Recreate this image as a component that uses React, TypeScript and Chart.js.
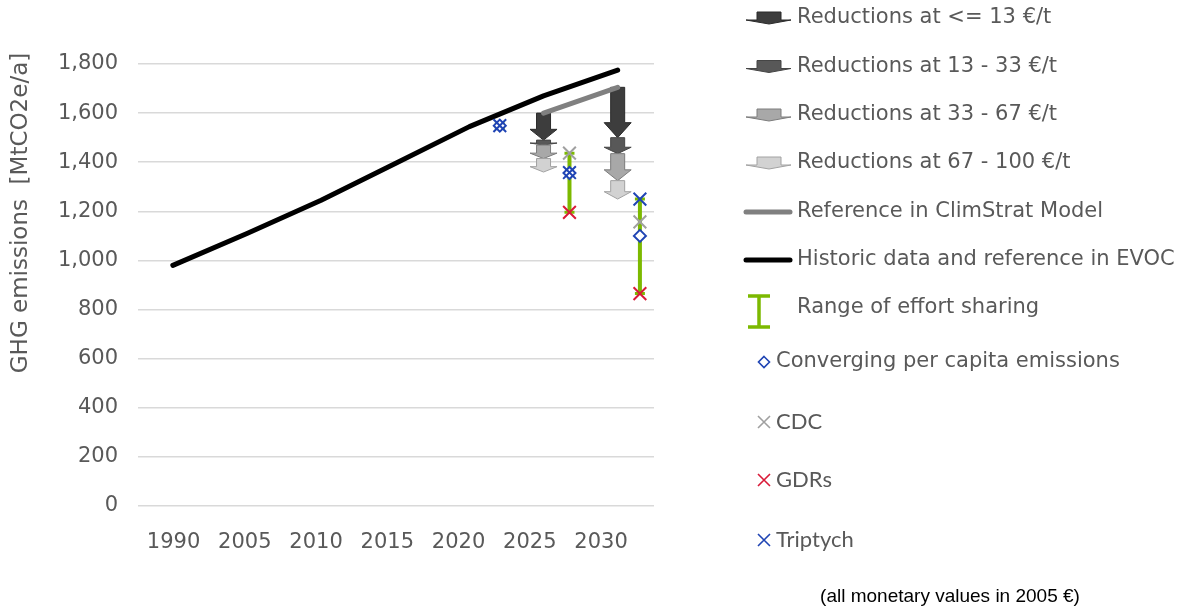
import React, { useEffect, useRef } from 'react';
import { Chart, registerables } from 'chart.js';
Chart.register(...registerables);

// ---------- data ----------
const categories = ['1990', '2005', '2010', '2015', '2020', '2025', '2030'];
const historicEvoc = [980, 1110, 1245, 1395, 1545, 1670, 1775];
const climstratReference = [null, null, null, null, null, 1600, 1705];

const reductionYears = ['2025', '2030'];
const reductionsLe13 = [[1600, 1490], [1705, 1500]];
const reductions13to33 = [[1490, 1470], [1500, 1435]];
const reductions33to67 = [[1470, 1415], [1435, 1325]];
const reductions67to100 = [[1415, 1360], [1325, 1250]];

// effort-sharing results, placed along the category axis (index units)
const effortSharingAt = [4.41, 5.35, 6.3];
const rangeHigh = [1556, 1437, 1250];
const rangeLow = [1541, 1196, 865];
const converging = [1549, 1356, 1100];
const cdc = [null, 1437, 1157];
const gdrs = [null, 1196, 865];
const triptych = [1549, 1358, 1250];

const yTicks = [0, 200, 400, 600, 800, 1000, 1200, 1400, 1600, 1800];

const legendLabels = [
  'Reductions at <= 13 €/t',
  'Reductions at 13 - 33 €/t',
  'Reductions at 33 - 67 €/t',
  'Reductions at 67 - 100 €/t',
  'Reference in ClimStrat Model',
  'Historic data and reference in EVOC',
  'Range of effort sharing',
  'Converging per capita emissions',
  'CDC',
  'GDRs',
  'Triptych',
];
const yTitle = 'GHG emissions  [MtCO2e/a]';
const footnote = '(all monetary values in 2005 €)';

// ---------- styles ----------
const TEXT = '#595959';
const FONT = '"DejaVu Sans", Verdana, sans-serif';
const GREEN = '#7cb900';
const BLUE = '#1f44b4';
const RED = '#d91a38';
const GREYX = '#a0a0a0';
const tierFill = ['#3d3d3d', '#585858', '#a8a8a8', '#d2d2d2'];
const tierEdge = ['#2b2b2b', '#454545', '#7c7c7c', '#a2a2a2'];

function drawArrow(ctx: CanvasRenderingContext2D, cx: number, yTop: number, yTip: number, shaftW: number, headW: number, tier: number) {
  const len = yTip - yTop;
  const hl = Math.min(15, len * 0.4);
  ctx.beginPath();
  ctx.moveTo(cx - shaftW / 2, yTop);
  ctx.lineTo(cx + shaftW / 2, yTop);
  ctx.lineTo(cx + shaftW / 2, yTip - hl);
  ctx.lineTo(cx + headW / 2, yTip - hl);
  ctx.lineTo(cx, yTip);
  ctx.lineTo(cx - headW / 2, yTip - hl);
  ctx.lineTo(cx - shaftW / 2, yTip - hl);
  ctx.closePath();
  ctx.fillStyle = tierFill[tier];
  ctx.fill();
  ctx.strokeStyle = tierEdge[tier];
  ctx.lineWidth = 1;
  ctx.stroke();
}

function drawX(ctx: CanvasRenderingContext2D, x: number, y: number, h: number, color: string, lw = 2) {
  ctx.beginPath();
  ctx.moveTo(x - h, y - h);
  ctx.lineTo(x + h, y + h);
  ctx.moveTo(x + h, y - h);
  ctx.lineTo(x - h, y + h);
  ctx.strokeStyle = color;
  ctx.lineWidth = lw;
  ctx.stroke();
}

const backgroundMarks = {
  id: 'backgroundMarks',
  beforeDatasetsDraw(chart: any) {
    const { ctx, scales } = chart;
    const xs = scales.x;
    const ys = scales.y;
    ctx.save();
    // reduction arrows
    const tiers = [reductionsLe13, reductions13to33, reductions33to67, reductions67to100];
    reductionYears.forEach((yr, i) => {
      const cx = xs.getPixelForValue(categories.indexOf(yr));
      tiers.forEach((tier, t) => {
        const [a, b] = tier[i];
        drawArrow(ctx, cx, ys.getPixelForValue(a), ys.getPixelForValue(b), 14, 27, t);
      });
    });
    // effort sharing ranges
    effortSharingAt.forEach((pos, i) => {
      const x = xs.getPixelForValue(pos);
      const top = ys.getPixelForValue(rangeHigh[i]);
      const bot = ys.getPixelForValue(rangeLow[i]);
      ctx.strokeStyle = GREEN;
      ctx.lineWidth = 4;
      ctx.beginPath();
      ctx.moveTo(x, top);
      ctx.lineTo(x, bot);
      ctx.stroke();
      ctx.lineWidth = 3;
      ctx.beginPath();
      ctx.moveTo(x - 5, top);
      ctx.lineTo(x + 5, top);
      ctx.moveTo(x - 5, bot);
      ctx.lineTo(x + 5, bot);
      ctx.stroke();
    });
    ctx.restore();
  },
};

const decorations = {
  id: 'decorations',
  afterDraw(chart: any) {
    const { ctx } = chart;
    ctx.save();
    // y axis title
    ctx.save();
    ctx.translate(21, 213);
    ctx.rotate(-Math.PI / 2);
    ctx.font = `23px ${FONT}`;
    ctx.fillStyle = TEXT;
    ctx.textAlign = 'center';
    ctx.textBaseline = 'middle';
    ctx.fillText(yTitle, 0, 0);
    ctx.restore();

    // legend
    const rows = [18, 66.5, 115, 163, 212, 260, 308, 362, 422, 480, 540];
    legendLabels.forEach((label, i) => {
      const y = rows[i];
      if (i < 4) {
        // flattened arrow icon
        ctx.beginPath();
        ctx.moveTo(757, y - 6);
        ctx.lineTo(781, y - 6);
        ctx.lineTo(781, y + 2);
        ctx.lineTo(791, y + 2);
        ctx.lineTo(769, y + 6);
        ctx.lineTo(746, y + 2);
        ctx.lineTo(757, y + 2);
        ctx.closePath();
        ctx.fillStyle = tierFill[i];
        ctx.fill();
        ctx.strokeStyle = tierEdge[i];
        ctx.lineWidth = 1;
        ctx.stroke();
      } else if (i === 4 || i === 5) {
        ctx.beginPath();
        ctx.moveTo(746, y);
        ctx.lineTo(790, y);
        ctx.strokeStyle = i === 4 ? '#808080' : '#000000';
        ctx.lineWidth = 5;
        ctx.lineCap = 'round';
        ctx.stroke();
        ctx.lineCap = 'butt';
      } else if (i === 6) {
        ctx.strokeStyle = GREEN;
        ctx.lineWidth = 3.5;
        ctx.beginPath();
        ctx.moveTo(759, y - 12);
        ctx.lineTo(759, y + 19);
        ctx.moveTo(748, y - 12);
        ctx.lineTo(770, y - 12);
        ctx.moveTo(748, y + 19);
        ctx.lineTo(770, y + 19);
        ctx.stroke();
      } else if (i === 7) {
        ctx.beginPath();
        ctx.moveTo(764, y - 5.5);
        ctx.lineTo(769.5, y);
        ctx.lineTo(764, y + 5.5);
        ctx.lineTo(758.5, y);
        ctx.closePath();
        ctx.fillStyle = '#fff';
        ctx.fill();
        ctx.strokeStyle = BLUE;
        ctx.lineWidth = 1.6;
        ctx.stroke();
      } else {
        const col = i === 8 ? GREYX : i === 9 ? RED : BLUE;
        drawX(ctx, 764, y, 6, col, 1.6);
      }
      ctx.fillStyle = TEXT;
      ctx.textBaseline = 'middle';
      ctx.textAlign = 'left';
      ctx.font = i >= 8 ? '22px Lato, sans-serif' : `21px ${FONT}`;
      ctx.fillText(label, i < 7 ? 797 : 776, y);
    });

    // footnote
    ctx.font = '19px "Liberation Sans", Arial, sans-serif';
    ctx.fillStyle = '#000';
    ctx.textAlign = 'center';
    ctx.textBaseline = 'middle';
    ctx.fillText(footnote, 950, 597);
    ctx.restore();
  },
};

export default function App() {
  const ref = useRef<HTMLCanvasElement>(null);
  useEffect(() => {
    if (!ref.current) return;
    const pts = (ys: (number | null)[]) =>
      effortSharingAt.map((x, i) => ({ x, y: ys[i] })).filter((p) => p.y !== null);
    const chart = new Chart(ref.current, {
      type: 'line',
      data: {
        datasets: [
          {
            label: 'Historic data and reference in EVOC',
            data: historicEvoc.map((y, i) => ({ x: i, y })),
            borderColor: '#000000',
            borderWidth: 5,
            pointRadius: 0,
            borderCapStyle: 'round',
            borderJoinStyle: 'round',
            order: 5,
          },
          {
            label: 'Reference in ClimStrat Model',
            data: climstratReference.map((y, i) => ({ x: i, y })).filter((p) => p.y !== null),
            borderColor: '#808080',
            borderWidth: 5,
            pointRadius: 0,
            borderCapStyle: 'round',
            order: 4,
          },
          {
            type: 'scatter',
            label: 'Converging per capita emissions',
            data: pts(converging),
            pointStyle: 'rectRot',
            pointRadius: 6,
            pointBorderWidth: 2,
            pointBackgroundColor: '#ffffff',
            pointBorderColor: BLUE,
            order: 3,
          },
          {
            type: 'scatter',
            label: 'CDC',
            data: pts(cdc),
            pointStyle: 'crossRot',
            pointRadius: 9,
            pointBorderWidth: 2,
            pointBorderColor: GREYX,
            order: 2,
          },
          {
            type: 'scatter',
            label: 'GDRs',
            data: pts(gdrs),
            pointStyle: 'crossRot',
            pointRadius: 9,
            pointBorderWidth: 2,
            pointBorderColor: RED,
            order: 1,
          },
          {
            type: 'scatter',
            label: 'Triptych',
            data: pts(triptych),
            pointStyle: 'crossRot',
            pointRadius: 9,
            pointBorderWidth: 2,
            pointBorderColor: BLUE,
            order: 0,
          },
        ] as any,
      },
      options: {
        responsive: false,
        animation: false,
        layout: { padding: { left: 0, top: 64, right: 534, bottom: 0 } },
        plugins: { legend: { display: false }, tooltip: { enabled: false } },
        scales: {
          x: {
            type: 'linear',
            min: -0.47,
            max: 6.49,
            grid: { display: false },
            border: { display: false },
            afterBuildTicks: (scale: any) => {
              scale.ticks = categories.map((_, i) => ({ value: i * 0.961 + 0.01 }));
            },
            afterFit: (scale: any) => {
              scale.height = 106;
            },
            ticks: {
              autoSkip: false,
              maxRotation: 0,
              padding: 16,
              color: TEXT,
              font: { family: FONT, size: 21 },
              callback: (_v: any, i: number) => categories[i],
            },
          },
          y: {
            min: 0,
            max: 1800,
            afterBuildTicks: (scale: any) => {
              scale.ticks = yTicks.map((v) => ({ value: v }));
            },
            afterFit: (scale: any) => {
              scale.width = 138;
            },
            grid: { color: '#d9d9d9', lineWidth: 1.5, drawTicks: false },
            border: { display: false },
            ticks: {
              padding: 20,
              color: TEXT,
              font: { family: FONT, size: 21 },
              callback: (v: any) => Number(v).toLocaleString('en-US'),
            },
          },
        },
      } as any,
      plugins: [backgroundMarks, decorations],
    });
    return () => chart.destroy();
  }, []);
  return (
    <div style={{ position: 'absolute', left: 0, top: 0, width: 1188, height: 612, background: '#fff' }}>
      <canvas ref={ref} width={1188} height={612} />
    </div>
  );
}
